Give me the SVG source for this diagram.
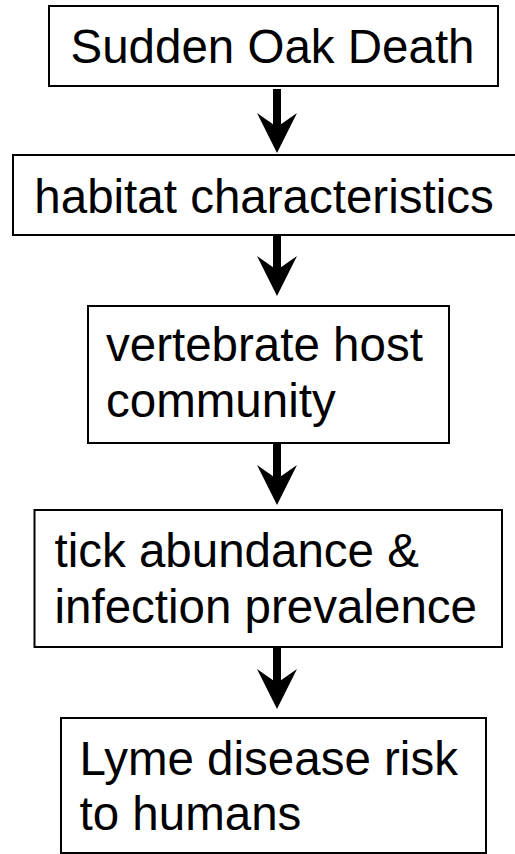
<svg xmlns="http://www.w3.org/2000/svg" width="515" height="854" viewBox="0 0 515 854">
  <defs>
    <style>
      .box { fill: #ffffff; stroke: #000000; stroke-width: 2; }
      .lbl { font-family: "Liberation Sans", Arial, sans-serif; font-size: 47.5px; fill: #000000; }
      .mid { text-anchor: middle; }
      .conn { stroke: #000000; stroke-width: 8; fill: none; marker-end: url(#head); }
    </style>
    <marker id="head" viewBox="0 0 40 40" refX="14" refY="20" markerWidth="40" markerHeight="40" markerUnits="userSpaceOnUse" orient="auto">
      <path d="M0,0 L40,20 L0,40 L14,20 Z" fill="#000000"/>
    </marker>
  </defs>
  <rect width="515" height="854" fill="#ffffff"/>

  <g id="connectors">
    <line class="conn" x1="277" y1="89" x2="277" y2="127"/>
    <line class="conn" x1="277" y1="235" x2="277" y2="270"/>
    <line class="conn" x1="277" y1="443" x2="277" y2="479"/>
    <line class="conn" x1="277" y1="647" x2="277" y2="683"/>
  </g>

  <g id="node-sod">
    <rect class="box" x="49" y="6" width="449" height="80"/>
    <text class="lbl mid" x="272.5" y="63">Sudden Oak Death</text>
  </g>

  <g id="node-habitat">
    <rect class="box" x="13" y="155" width="520" height="80"/>
    <text class="lbl mid" x="264" y="213">habitat characteristics</text>
  </g>

  <g id="node-hosts">
    <rect class="box" x="88" y="306" width="361" height="137"/>
    <text class="lbl" x="106" y="361">vertebrate host</text>
    <text class="lbl" x="106" y="417">community</text>
  </g>

  <g id="node-ticks">
    <rect class="box" x="34.5" y="510" width="467.5" height="137"/>
    <text class="lbl" x="54.5" y="567">tick abundance &amp;</text>
    <text class="lbl" x="54.5" y="623">infection prevalence</text>
  </g>

  <g id="node-lyme">
    <rect class="box" x="61" y="718" width="425" height="135"/>
    <text class="lbl" x="79.5" y="775">Lyme disease risk</text>
    <text class="lbl" x="79.5" y="830">to humans</text>
  </g>
</svg>
